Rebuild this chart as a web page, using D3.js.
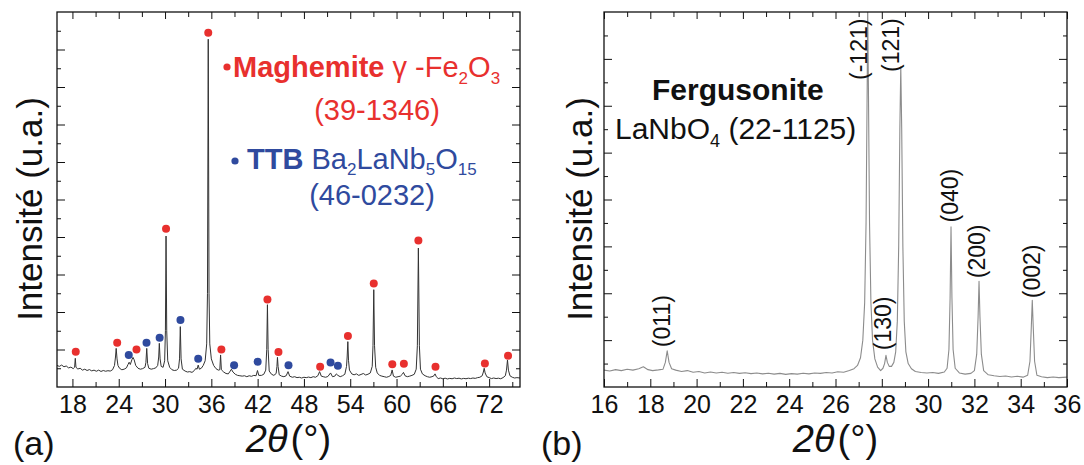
<!DOCTYPE html>
<html>
<head>
<meta charset="utf-8">
<script src="https://cdn.jsdelivr.net/npm/d3@7"></script>
<style>
  html, body { margin: 0; padding: 0; background: #fff; }
  svg { display: block; }
  text { font-family: "Liberation Sans", Arial, Helvetica, sans-serif; }
</style>
</head>
<body>
<svg id="chart" width="1084" height="465"></svg>
<script>
// ---------------- DATA ----------------
// Panel (a): XRD pattern, [2theta (deg), intensity (a.u.)]
const patternA = [
  [16.0,1.15],[16.3,1.1],[16.6,1.17],[16.9,1.08],[17.2,1.12],[17.5,1.02],[17.8,1.06],[18.1,0.98],[18.28,1.05],[18.37,1.53],[18.46,1.05],[18.7,0.96],[19.0,1.0],[19.3,0.9],[19.6,0.95],[19.9,0.88],[20.2,0.93],[20.5,0.86],[20.8,0.9],[21.1,0.84],[21.4,0.9],[21.7,0.83],[22.0,0.88],[22.3,0.84],[22.6,0.87],[22.9,0.85],[23.2,0.92],[23.45,1.15],[23.58,1.6],[23.67,2.06],[23.78,1.5],[23.9,1.15],[24.1,1.0],[24.4,0.92],[24.7,0.95],[25.0,1.02],[25.2,1.2],[25.35,1.32],[25.5,1.2],[25.7,1.45],[25.85,1.58],[26.0,1.45],[26.2,1.15],[26.5,1.0],[26.8,0.95],[27.1,0.98],[27.4,1.05],[27.52,1.3],[27.63,2.06],[27.74,1.25],[27.9,1.0],[28.2,0.95],[28.5,0.98],[28.8,1.02],[29.05,1.15],[29.18,1.6],[29.26,2.33],[29.36,1.5],[29.5,1.1],[29.75,1.05],[29.95,1.4],[30.05,3.0],[30.13,8.05],[30.22,3.0],[30.35,1.4],[30.6,1.05],[30.9,0.92],[31.2,0.88],[31.5,0.9],[31.75,1.0],[31.88,1.5],[31.98,3.22],[32.08,1.5],[32.25,0.95],[32.6,0.85],[32.9,0.8],[33.2,0.82],[33.5,0.78],[33.8,0.88],[34.0,1.0],[34.15,0.95],[34.3,1.17],[34.45,0.95],[34.7,1.0],[34.95,1.15],[35.2,1.4],[35.4,2.3],[35.5,5.0],[35.6,18.55],[35.7,5.0],[35.8,2.3],[36.0,1.5],[36.3,1.15],[36.6,0.98],[36.9,0.9],[37.1,0.92],[37.2,1.71],[37.3,0.92],[37.6,0.8],[37.9,0.72],[38.2,0.7],[38.45,0.85],[38.6,0.95],[38.8,0.8],[39.1,0.68],[39.4,0.62],[39.7,0.6],[40.0,0.58],[40.3,0.6],[40.6,0.55],[40.9,0.6],[41.2,0.57],[41.5,0.62],[41.8,0.6],[41.98,0.88],[42.15,0.62],[42.5,0.62],[42.8,0.68],[43.05,0.9],[43.18,2.0],[43.27,4.39],[43.36,2.0],[43.5,0.85],[43.8,0.68],[44.1,0.62],[44.4,0.72],[44.5,1.1],[44.57,1.58],[44.65,1.1],[44.8,0.65],[45.1,0.58],[45.4,0.55],[45.7,0.6],[45.94,0.82],[46.15,0.58],[46.5,0.52],[46.8,0.55],[47.1,0.5],[47.4,0.52],[47.7,0.48],[48.0,0.52],[48.3,0.5],[48.6,0.53],[48.9,0.5],[49.2,0.55],[49.5,0.52],[49.8,0.6],[50.03,0.82],[50.25,0.58],[50.5,0.55],[50.8,0.52],[51.1,0.56],[51.45,0.75],[51.7,0.55],[52.0,0.58],[52.2,0.7],[52.4,0.62],[52.7,0.55],[53.0,0.6],[53.3,0.68],[53.52,1.1],[53.6,1.6],[53.69,2.42],[53.78,1.4],[53.9,0.9],[54.2,0.7],[54.5,0.65],[54.8,0.7],[55.1,0.62],[55.4,0.67],[55.7,0.72],[56.0,0.64],[56.3,0.68],[56.6,0.75],[56.85,1.1],[56.95,2.2],[57.05,5.19],[57.15,2.2],[57.3,1.05],[57.5,0.75],[57.8,0.62],[58.1,0.58],[58.4,0.55],[58.7,0.52],[59.0,0.56],[59.25,0.62],[59.43,0.91],[59.6,0.58],[59.9,0.52],[60.2,0.55],[60.5,0.58],[60.75,0.68],[60.9,0.78],[61.1,0.6],[61.4,0.55],[61.7,0.58],[62.0,0.62],[62.3,0.68],[62.55,0.95],[62.7,2.2],[62.83,7.41],[62.96,2.2],[63.1,0.95],[63.35,0.7],[63.7,0.6],[64.0,0.55],[64.3,0.52],[64.6,0.55],[64.85,0.6],[64.99,0.7],[65.15,0.55],[65.4,0.45],[65.7,0.48],[66.0,0.44],[66.3,0.47],[66.6,0.43],[66.9,0.46],[67.2,0.44],[67.5,0.48],[67.8,0.45],[68.1,0.47],[68.4,0.43],[68.7,0.46],[69.0,0.44],[69.3,0.47],[69.6,0.45],[69.9,0.48],[70.2,0.46],[70.5,0.5],[70.8,0.52],[71.1,0.6],[71.25,0.8],[71.36,1.0],[71.48,0.75],[71.7,0.55],[72.0,0.5],[72.3,0.45],[72.6,0.48],[72.9,0.45],[73.2,0.47],[73.5,0.44],[73.8,0.5],[74.1,0.6],[74.25,0.9],[74.38,1.44],[74.5,0.9],[74.7,0.6],[75.0,0.52],[75.3,0.48],[75.6,0.5],[76.0,0.48]
];
// Panel (a) phase markers [2theta, marker height]
const maghemiteMarks = [
  [18.43,1.88],[23.8,2.36],[26.3,2.0],[30.13,8.44],[35.6,18.9],[37.3,2.0],[43.27,4.67],[44.7,1.87],
  [50.1,1.08],[53.7,2.72],[57.05,5.52],[59.45,1.21],[60.95,1.24],[62.83,7.81],[65.05,1.08],[71.45,1.26],[74.45,1.67]
];
const ttbMarks = [
  [25.3,1.71],[27.6,2.36],[29.3,2.63],[32.0,3.57],[34.3,1.51],[38.95,1.16],[42.0,1.35],[46.0,1.16],[51.45,1.31],[52.4,1.14]
];
const ticksA_major = [18,24,30,36,42,48,54,60,66,72];
const ticksA_minor = [21,27,33,39,45,51,57,63,69,75];
const yTicksA_major = [2,4,6,8,10,12,14,16,18];
const yTicksA_minor = [1,3,5,7,9,11,13,15,17,19];

// Panel (b): XRD pattern, [2theta (deg), intensity (a.u.)]
const patternB = [
  [16.0,0.72],[16.25,0.68],[16.5,0.74],[16.75,0.7],[17.0,0.76],[17.25,0.72],[17.5,0.78],[17.7,0.86],[17.9,0.74],[18.1,0.7],[18.35,0.73],[18.55,0.76],[18.65,1.05],[18.73,1.54],[18.81,1.05],[18.92,0.78],[19.1,0.72],[19.35,0.66],[19.6,0.7],[19.85,0.63],[20.1,0.66],[20.35,0.6],[20.6,0.64],[20.85,0.6],[21.1,0.63],[21.35,0.59],[21.6,0.62],[21.85,0.58],[22.1,0.61],[22.35,0.57],[22.6,0.6],[22.85,0.56],[23.1,0.59],[23.35,0.55],[23.6,0.58],[23.85,0.54],[24.1,0.57],[24.35,0.55],[24.6,0.59],[24.85,0.56],[25.1,0.6],[25.35,0.58],[25.6,0.62],[25.85,0.6],[26.1,0.65],[26.35,0.63],[26.6,0.7],[26.8,0.78],[26.95,0.92],[27.08,1.25],[27.18,2.0],[27.26,3.6],[27.32,7.0],[27.37,13.0],[27.39,16.3],[27.42,13.0],[27.47,7.0],[27.53,3.6],[27.6,2.0],[27.7,1.2],[27.82,0.85],[27.95,0.7],[28.05,0.8],[28.12,1.0],[28.18,1.35],[28.24,1.05],[28.32,0.88],[28.42,0.88],[28.52,1.05],[28.6,1.5],[28.67,2.8],[28.73,6.0],[28.78,11.0],[28.82,13.66],[28.86,11.0],[28.91,6.0],[28.97,2.8],[29.04,1.5],[29.14,1.0],[29.28,0.78],[29.45,0.66],[29.7,0.62],[29.95,0.6],[30.2,0.62],[30.45,0.58],[30.7,0.64],[30.82,0.8],[30.9,1.6],[30.95,3.8],[30.99,6.83],[31.03,3.8],[31.08,1.6],[31.17,0.8],[31.35,0.6],[31.6,0.55],[31.85,0.58],[32.0,0.7],[32.1,1.4],[32.16,3.0],[32.2,4.51],[32.24,3.0],[32.3,1.4],[32.4,0.7],[32.6,0.52],[32.85,0.48],[33.1,0.45],[33.35,0.47],[33.6,0.43],[33.85,0.46],[34.1,0.42],[34.3,0.5],[34.4,1.1],[34.46,2.6],[34.5,3.7],[34.54,2.6],[34.6,1.1],[34.7,0.5],[34.9,0.44],[35.15,0.4],[35.4,0.43],[35.65,0.4],[36.0,0.42]
];
// Panel (b) reflection labels: text, 2theta of label centre, intensity at label start (bottom)
const hklLabels = ["(011)","(-121)","(130)","(121)","(040)","(200)","(002)"];
const hklPos    = [18.5, 27.0, 28.03, 28.4, 30.95, 32.1, 34.5];
const hklBase   = [1.7, 13.1, 1.57, 13.44, 7.02, 4.64, 3.79];
const ticksB_major = [16,18,20,22,24,26,28,30,32,34,36];
const ticksB_minor = [17,19,21,23,25,27,29,31,33,35];
const yTicksB_major = [2,4,6,8,10,12,14];
const yTicksB_minor = [1,3,5,7,9,11,13,15];

// ---------------- DRAW ----------------
const svg = d3.select("#chart");
const RED = "#e8302e", BLUE = "#2f4a9e";
const TOPY = 12, BOTY = 387;

function panel(opts) {
  const x = d3.scaleLinear().domain(opts.xd).range(opts.xr);
  const y = d3.scaleLinear().domain(opts.yd).range([BOTY, TOPY]);
  const g = svg.append("g");
  const clipId = "clip" + opts.id;
  svg.append("clipPath").attr("id", clipId).append("rect")
    .attr("x", opts.xr[0]).attr("y", TOPY).attr("width", opts.xr[1]-opts.xr[0]).attr("height", BOTY-TOPY);

  // curve
  g.append("path").datum(opts.data)
    .attr("clip-path", `url(#${clipId})`)
    .attr("fill", "none").attr("stroke", opts.lineColor).attr("stroke-width", opts.lineWidth)
    .attr("stroke-linejoin", "round")
    .attr("d", d3.line().x(d => x(d[0])).y(d => y(d[1])));

  const style = sel => {
    sel.select(".domain").remove();
    sel.selectAll("line").attr("stroke", "#111").attr("stroke-width", 1);
  };
  // bottom axis
  g.append("g").attr("transform", `translate(0,${BOTY})`)
    .call(d3.axisBottom(x).tickValues(opts.xMajor).tickSize(-8).tickPadding(8).tickFormat(d3.format("d")))
    .call(style)
    .call(s => s.selectAll("text").attr("font-size", 25).attr("fill", "#111")
      .style("font-family", '"Liberation Sans", Arial, sans-serif'));
  g.append("g").attr("transform", `translate(0,${BOTY})`)
    .call(d3.axisBottom(x).tickValues(opts.xMinor).tickSize(-5).tickFormat(""))
    .call(style);
  // top axis
  g.append("g").attr("transform", `translate(0,${TOPY})`)
    .call(d3.axisTop(x).tickValues(opts.xMajor).tickSize(-7).tickFormat("")).call(style);
  g.append("g").attr("transform", `translate(0,${TOPY})`)
    .call(d3.axisTop(x).tickValues(opts.xMinor).tickSize(-5).tickFormat("")).call(style);
  // left / right axes
  g.append("g").attr("transform", `translate(${opts.xr[0]},0)`)
    .call(d3.axisLeft(y).tickValues(opts.yMajor).tickSize(-8).tickFormat("")).call(style);
  g.append("g").attr("transform", `translate(${opts.xr[0]},0)`)
    .call(d3.axisLeft(y).tickValues(opts.yMinor).tickSize(-4).tickFormat("")).call(style);
  g.append("g").attr("transform", `translate(${opts.xr[1]},0)`)
    .call(d3.axisRight(y).tickValues(opts.yMajor).tickSize(-8).tickFormat("")).call(style);
  g.append("g").attr("transform", `translate(${opts.xr[1]},0)`)
    .call(d3.axisRight(y).tickValues(opts.yMinor).tickSize(-4).tickFormat("")).call(style);

  // frame
  g.append("rect").attr("x", opts.xr[0]).attr("y", TOPY)
    .attr("width", opts.xr[1]-opts.xr[0]).attr("height", BOTY-TOPY)
    .attr("fill", "none").attr("stroke", "#111").attr("stroke-width", 1.3);

  // axis titles
  const cx = (opts.xr[0] + opts.xr[1]) / 2;
  const xt = g.append("text").attr("x", cx).attr("y", 452).attr("text-anchor", "middle")
    .attr("font-size", 38).attr("fill", "#111");
  xt.append("tspan").attr("font-style", "italic").text("2\u03B8");
  xt.append("tspan").attr("dx", 3).text("(°)");
  g.append("text").attr("transform", `translate(${opts.yTitleX},209) rotate(-90)`)
    .attr("text-anchor", "middle").attr("dy", "0.35em")
    .attr("font-size", 35).attr("fill", "#111").text("Intensité (u.a.)");
  g.append("text").attr("x", opts.tagX).attr("y", 455).attr("font-size", 34).attr("fill", "#111").text(opts.tag);
  return {x, y, g};
}

// Panel (a)
const A = panel({
  id: "A", xd: [16, 76], xr: [57, 520], yd: [0, 20], data: patternA,
  lineColor: "#333333", lineWidth: 1,
  xMajor: ticksA_major, xMinor: ticksA_minor, yMajor: yTicksA_major, yMinor: yTicksA_minor,
  yTitleX: 30, tag: "(a)", tagX: 13
});
A.g.selectAll("circle.mag").data(maghemiteMarks).join("circle").attr("class", "mag")
  .attr("cx", d => A.x(d[0])).attr("cy", d => A.y(d[1])).attr("r", 4).attr("fill", RED);
A.g.selectAll("circle.ttb").data(ttbMarks).join("circle").attr("class", "ttb")
  .attr("cx", d => A.x(d[0])).attr("cy", d => A.y(d[1])).attr("r", 4).attr("fill", BLUE);

// legend (a)
const leg = A.g.append("g");
leg.append("circle").attr("cx", 227).attr("cy", 67).attr("r", 3.6).attr("fill", RED);
const l1 = leg.append("text").attr("x", 233).attr("y", 77).attr("font-size", 29).attr("fill", RED);
l1.append("tspan").attr("font-weight", "bold").text("Maghemite");
l1.append("tspan").text(" \u03B3 -Fe");
l1.append("tspan").attr("font-size", 17).attr("dy", 7).text("2");
l1.append("tspan").attr("dy", -7).text("O");
l1.append("tspan").attr("font-size", 17).attr("dy", 7).text("3");
leg.append("text").attr("x", 377).attr("y", 120).attr("text-anchor", "middle")
  .attr("font-size", 29).attr("fill", RED).text("(39-1346)");
leg.append("circle").attr("cx", 235).attr("cy", 161).attr("r", 3.6).attr("fill", BLUE);
const l3 = leg.append("text").attr("x", 247).attr("y", 169).attr("font-size", 29).attr("fill", BLUE);
l3.append("tspan").attr("font-weight", "bold").text("TTB");
l3.append("tspan").text(" Ba");
l3.append("tspan").attr("font-size", 17).attr("dy", 6).text("2");
l3.append("tspan").attr("dy", -6).text("LaNb");
l3.append("tspan").attr("font-size", 17).attr("dy", 6).text("5");
l3.append("tspan").attr("dy", -6).text("O");
l3.append("tspan").attr("font-size", 17).attr("dy", 6).text("15");
leg.append("text").attr("x", 372).attr("y", 205).attr("text-anchor", "middle")
  .attr("font-size", 29).attr("fill", BLUE).text("(46-0232)");

// Panel (b)
const B = panel({
  id: "B", xd: [16, 36], xr: [604, 1067], yd: [0, 16], data: patternB,
  lineColor: "#8c8c8c", lineWidth: 1.1,
  xMajor: ticksB_major, xMinor: ticksB_minor, yMajor: yTicksB_major, yMinor: yTicksB_minor,
  yTitleX: 580, tag: "(b)", tagX: 541
});
B.g.selectAll("text.hkl").data(hklLabels).join("text").attr("class", "hkl")
  .attr("transform", (d, i) => `translate(${B.x(hklPos[i])},${B.y(hklBase[i])}) rotate(-90)`)
  .attr("dy", "0.35em").attr("font-size", 23).attr("fill", "#111").text(d => d);
B.g.append("text").attr("x", 652).attr("y", 100).attr("font-size", 30).attr("font-weight", "bold")
  .attr("fill", "#111").text("Fergusonite");
const lb = B.g.append("text").attr("x", 615).attr("y", 139).attr("font-size", 30).attr("fill", "#111");
lb.append("tspan").text("LaNbO");
lb.append("tspan").attr("font-size", 18).attr("dy", 8).text("4");
lb.append("tspan").attr("dy", -8).text(" (22-1125)");
</script>
</body>
</html>
